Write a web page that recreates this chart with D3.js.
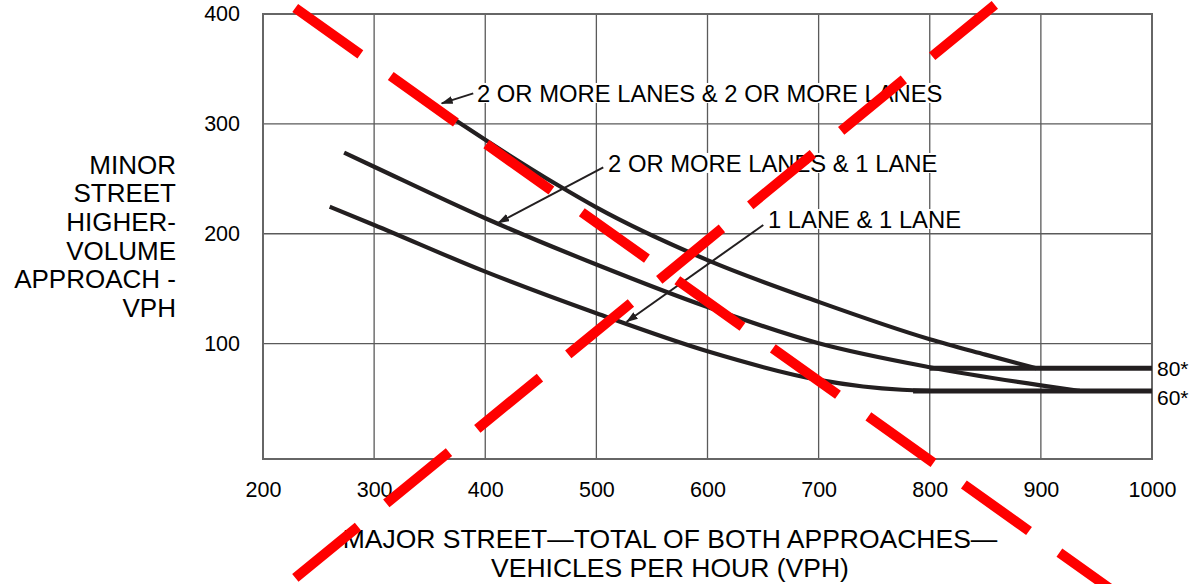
<!DOCTYPE html>
<html>
<head>
<meta charset="utf-8">
<script src="https://cdn.jsdelivr.net/npm/d3@7"></script>
<style>
  html, body { margin: 0; padding: 0; background: #fff; }
  svg { display: block; font-family: "Liberation Sans", Arial, Helvetica, sans-serif; }
</style>
</head>
<body>
<svg id="chart" width="1195" height="584"></svg>
<script>
// ---------- data ----------
const xTicks = [200, 300, 400, 500, 600, 700, 800, 900, 1000];
const yTicks = [100, 200, 300, 400];

// 2 OR MORE LANES & 2 OR MORE LANES
const curveA = [[319, 341.5], [377, 300.8], [400, 285.5], [464, 245], [500, 224], [600, 176], [700, 138], [800, 104], [850, 90], [896, 77.5]];
// 2 OR MORE LANES & 1 LANE
const curveB = [[273, 273.8], [300, 261], [400, 214.1], [500, 172], [600, 133.3], [700, 100.3], [800, 78.5], [900, 62], [935, 57]];
// 1 LANE & 1 LANE
const curveC = [[260, 224.6], [300, 208], [400, 165.5], [500, 127.6], [600, 93], [700, 67], [740, 61], [775, 58], [800, 57]];

// asymptote lines
const flat80 = [[800, 77.5], [1000, 77.5]];
const flat60 = [[785, 57], [1000, 57]];
const flatLabels = ["80*", "60*"];

// annotations: label, arrow tail, arrow tip, text anchor
const annLabels = ["2 OR MORE LANES & 2 OR MORE LANES", "2 OR MORE LANES & 1 LANE", "1 LANE & 1 LANE"];
const annTails = [[389.2, 327.8], [506.2, 260.5], [650.2, 208.0]];
const annTips = [[360.8, 318.7], [411.7, 210.0], [527.3, 119.9]];
const annText = [[392.6, 319.9], [510.5, 256.2], [654.4, 205.2]];

// red "X" overlay lines
const redLine1 = [[229.0, 405.5], [1043.2, -181.4]];
const redLine2 = [[229.1, -113.2], [863.2, 412.1]];

const yTitle = ["MINOR", "STREET", "HIGHER-", "VOLUME", "APPROACH -", "VPH"];
const xTitle = ["MAJOR STREET\u2014TOTAL OF BOTH APPROACHES\u2014", "VEHICLES PER HOUR (VPH)"];

// ---------- drawing ----------
const svg = d3.select("#chart");
const x = d3.scaleLinear().domain([200, 1000]).range([263, 1152]);
const y = d3.scaleLinear().domain([-5, 400]).range([459, 14]);

const ink = "#231f20";
const gridCol = "#5a5a5a";

// grid
const grid = svg.append("g");
grid.selectAll("line.vx").data(xTicks.slice(1, -1)).join("line")
  .attr("x1", d => x(d)).attr("x2", d => x(d))
  .attr("y1", y(400)).attr("y2", y(-5))
  .attr("stroke", gridCol).attr("stroke-width", 1.3);
grid.selectAll("line.hy").data(yTicks.slice(0, -1)).join("line")
  .attr("x1", x(200)).attr("x2", x(1000))
  .attr("y1", d => y(d)).attr("y2", d => y(d))
  .attr("stroke", gridCol).attr("stroke-width", 1.3);
grid.append("rect")
  .attr("x", x(200)).attr("y", y(400))
  .attr("width", x(1000) - x(200)).attr("height", y(-5) - y(400))
  .attr("fill", "none").attr("stroke", "#666").attr("stroke-width", 2);

// axes (labels only)
const yAxis = svg.append("g").attr("transform", `translate(${x(200)},0)`)
  .call(d3.axisLeft(y).tickValues(yTicks).tickFormat(d3.format("d")).tickSize(0).tickPadding(23));
const xAxis = svg.append("g").attr("transform", `translate(0,${y(-5)})`)
  .call(d3.axisBottom(x).tickValues(xTicks).tickFormat(d3.format("d")).tickSize(0).tickPadding(22.5));
[yAxis, xAxis].forEach(g => {
  g.select(".domain").remove();
  g.selectAll("text").attr("font-size", 21.5).attr("fill", "#000")
    .attr("font-family", '"Liberation Sans", Arial, sans-serif');
});

// arrow marker
const defs = svg.append("defs");
defs.append("marker").attr("id", "arrow")
  .attr("markerUnits", "userSpaceOnUse")
  .attr("viewBox", "0 0 12 8").attr("refX", 11).attr("refY", 4)
  .attr("markerWidth", 12).attr("markerHeight", 8).attr("orient", "auto")
  .append("path").attr("d", "M0,0 L12,4 L0,8 Z").attr("fill", ink);

// annotation text with white background
const annSize = 23.8;
const ann = svg.append("g");
annLabels.forEach((lab, i) => {
  const g = ann.append("g");
  const bg = g.append("rect").attr("fill", "#fff");
  const t = g.append("text")
    .attr("x", x(annText[i][0])).attr("y", y(annText[i][1]))
    .attr("font-size", annSize).attr("fill", "#000").text(lab);
  const bb = t.node().getBBox();
  bg.attr("x", bb.x - 2).attr("width", bb.width + 4)
    .attr("y", y(annText[i][1]) - annSize * 0.8).attr("height", annSize * 0.84);
});

// curves
const line = d3.line().x(d => x(d[0])).y(d => y(d[1])).curve(d3.curveMonotoneX);
const curves = svg.append("g").attr("fill", "none").attr("stroke", ink);
[curveA, curveB, curveC].forEach(c => {
  curves.append("path").attr("d", line(c)).attr("stroke-width", 4.2);
});
const straight = d3.line().x(d => x(d[0])).y(d => y(d[1]));
[flat80, flat60].forEach(c => {
  curves.append("path").attr("d", straight(c)).attr("stroke-width", 5);
});

// asymptote labels
svg.append("text").attr("x", x(1000) + 5).attr("y", y(flat80[1][1]) + 7.5)
  .attr("font-size", 21).attr("fill", "#000").text(flatLabels[0]);
svg.append("text").attr("x", x(1000) + 5).attr("y", y(flat60[1][1]) + 14)
  .attr("font-size", 21).attr("fill", "#000").text(flatLabels[1]);

// arrows
annTails.forEach((tl, i) => {
  ann.append("line")
    .attr("x1", x(tl[0])).attr("y1", y(tl[1]))
    .attr("x2", x(annTips[i][0])).attr("y2", y(annTips[i][1]))
    .attr("stroke", ink).attr("stroke-width", 2)
    .attr("marker-end", "url(#arrow)");
});

// axis titles
const yt = svg.append("text").attr("font-size", 26).attr("fill", "#000").attr("text-anchor", "end");
yTitle.forEach((s, i) => {
  yt.append("tspan").attr("x", 176).attr("y", 173.5 + i * 28.7).text(s);
});
const xt = svg.append("text").attr("font-size", 26.5).attr("fill", "#000").attr("text-anchor", "middle");
xTitle.forEach((s, i) => {
  xt.append("tspan").attr("x", 670).attr("y", 548 + i * 29).text(s);
});

// red dashed X overlay
const red = svg.append("g").attr("fill", "none").attr("stroke", "#ff0000").attr("stroke-width", 10);
red.append("path").attr("d", straight(redLine1)).attr("stroke-dasharray", "80,37.3");
red.append("path").attr("d", straight(redLine2)).attr("stroke-dasharray", "81,36.6");
</script>
</body>
</html>
